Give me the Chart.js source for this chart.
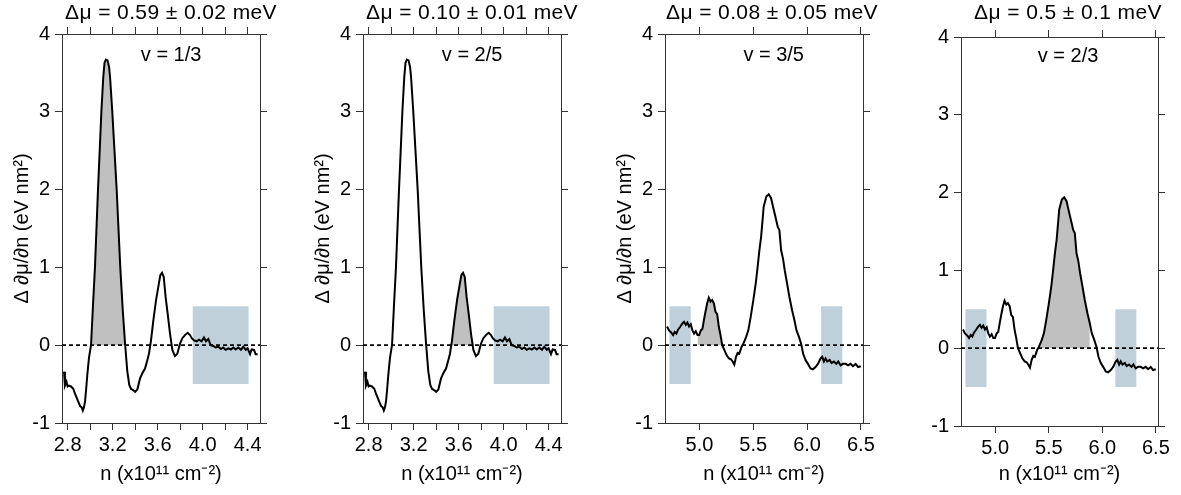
<!DOCTYPE html>
<html><head><meta charset="utf-8">
<script src="https://cdn.jsdelivr.net/npm/chart.js@4.4.1/dist/chart.umd.min.js"></script>
<style>
html,body{margin:0;padding:0;background:#fff;overflow:hidden;width:1181px;height:495px;position:relative}
canvas{position:absolute;top:0}
</style></head><body>
<canvas id="c0" width="342" height="495" style="left:0px"></canvas>
<canvas id="c1" width="342" height="495" style="left:301px"></canvas>
<canvas id="c2" width="338" height="495" style="left:603px"></canvas>
<canvas id="c3" width="338" height="495" style="left:899px"></canvas>
<script>
// ---------- DATA ----------
// curve shown in panels 1 and 2: [n (1e11 cm^-2), Δ∂μ/∂n (eV nm^2)]
const curveLow = [
 [2.768,-0.34],[2.776,-0.52],[2.79,-0.47],[2.80,-0.53],[2.81,-0.52],[2.83,-0.53],[2.85,-0.56],
 [2.87,-0.64],[2.89,-0.71],[2.91,-0.78],[2.925,-0.80],[2.935,-0.84],[2.945,-0.80],[2.955,-0.72],
 [2.965,-0.56],[2.975,-0.38],[2.99,-0.16],[3.008,0.0],[3.025,0.5],[3.043,1.0],[3.07,2.0],[3.10,3.0],
 [3.117,3.45],[3.128,3.63],[3.14,3.67],[3.155,3.66],[3.168,3.58],[3.177,3.45],[3.197,3.0],[3.236,2.0],
 [3.268,1.0],[3.29,0.45],[3.31,0.03],[3.33,-0.33],[3.348,-0.51],[3.363,-0.56],[3.385,-0.58],[3.40,-0.60],
 [3.42,-0.57],[3.443,-0.43],[3.464,-0.36],[3.488,-0.30],[3.509,-0.19],[3.523,-0.11],[3.541,0.06],
 [3.562,0.32],[3.586,0.58],[3.606,0.75],[3.624,0.90],[3.639,0.93],[3.654,0.88],[3.671,0.62],[3.689,0.41],
 [3.71,0.15],[3.731,-0.06],[3.754,-0.14],[3.775,-0.11],[3.799,0.02],[3.82,0.09],[3.843,0.13],[3.867,0.16],
 [3.888,0.13],[3.903,0.09],[3.926,0.06],[3.947,0.05],[3.968,0.07],[3.991,0.05],[4.012,0.10],[4.03,0.05],
 [4.051,0.08],[4.071,0.0],[4.095,-0.01],[4.116,-0.03],[4.14,-0.02],[4.163,-0.05],[4.184,-0.03],[4.205,-0.06],
 [4.229,-0.04],[4.252,-0.055],[4.273,-0.03],[4.294,-0.055],[4.317,-0.03],[4.341,-0.06],[4.362,-0.02],
 [4.383,-0.06],[4.40,-0.04],[4.421,-0.115],[4.436,-0.055],[4.457,-0.06],[4.471,-0.115],[4.489,-0.115]
];
// curve shown in panels 3 and 4
const curveHigh = [
 [4.699,0.24],[4.717,0.19],[4.739,0.16],[4.755,0.13],[4.77,0.17],[4.786,0.15],[4.801,0.20],[4.823,0.24],
 [4.842,0.28],[4.857,0.30],[4.873,0.26],[4.888,0.29],[4.904,0.24],[4.92,0.27],[4.935,0.19],[4.95,0.15],
 [4.966,0.18],[4.982,0.13],[4.997,0.13],[5.013,0.19],[5.028,0.21],[5.041,0.32],[5.056,0.43],[5.072,0.54],
 [5.087,0.61],[5.103,0.56],[5.118,0.58],[5.134,0.54],[5.149,0.43],[5.165,0.40],[5.18,0.24],[5.196,0.13],
 [5.212,0.0],[5.231,-0.06],[5.253,-0.13],[5.274,-0.17],[5.293,-0.18],[5.308,-0.21],[5.324,-0.25],
 [5.34,-0.15],[5.355,-0.10],[5.37,-0.11],[5.392,-0.02],[5.408,0.02],[5.43,0.09],[5.454,0.19],[5.476,0.36],
 [5.501,0.58],[5.523,0.79],[5.541,1.01],[5.557,1.22],[5.573,1.39],[5.588,1.63],[5.597,1.78],[5.622,1.91],
 [5.644,1.94],[5.666,1.89],[5.684,1.78],[5.706,1.65],[5.728,1.52],[5.743,1.48],[5.759,1.22],[5.777,1.11],
 [5.793,0.96],[5.815,0.79],[5.836,0.62],[5.861,0.45],[5.883,0.32],[5.902,0.19],[5.924,0.11],[5.945,0.02],
 [5.964,-0.11],[5.986,-0.19],[6.008,-0.24],[6.032,-0.30],[6.054,-0.31],[6.079,-0.28],[6.101,-0.24],
 [6.126,-0.17],[6.141,-0.15],[6.157,-0.21],[6.172,-0.17],[6.188,-0.21],[6.21,-0.19],[6.228,-0.23],
 [6.25,-0.21],[6.272,-0.24],[6.29,-0.21],[6.312,-0.26],[6.334,-0.24],[6.359,-0.24],[6.381,-0.26],
 [6.405,-0.24],[6.427,-0.27],[6.452,-0.24],[6.474,-0.28],[6.499,-0.27]
];
const panelTitles = ["Δμ = 0.59 ± 0.02 meV","Δμ = 0.10 ± 0.01 meV","Δμ = 0.08 ± 0.05 meV","Δμ = 0.5 ± 0.1 meV"];
const fillingLabels = ["v = 1/3","v = 2/5","v = 3/5","v = 2/3"];
const shadedRanges = [[3.0,3.315],[3.53,3.735],[4.98,5.235],[5.40,5.89]];
const boxRanges = [[[3.91,4.41]],[[3.91,4.41]],[[4.72,4.92],[6.13,6.33]],[[4.72,4.92],[6.12,6.32]]];
const boxHalfHeight = 0.5;
const xTicksLow = [2.8,3.0,3.2,3.4,3.6,3.8,4.0,4.2,4.4];
const xLabelsLow = [2.8,3.2,3.6,4.0,4.4];
const xTicksHigh = [5.0,5.5,6.0,6.5];
const xLabelsHigh = [5.0,5.5,6.0,6.5];
const yTicks = [-1,0,1,2,3,4];
const yTitle = "Δ ∂μ/∂n (eV nm²)";
const xTitle = "n (x10¹¹ cm⁻²)";

// ---------- LAYOUT / STYLE ----------
const FONT = '"Liberation Sans", Arial, Helvetica, sans-serif';
const panels = [
 {id:'c0', curve:curveLow, xr:[2.75,4.51], xt:xTicksLow, xl:xLabelsLow, yW:62, rW:82, T:34, B:423, yTitle:true, nuPos:[3.72,3.73], titleX:171},
 {id:'c1', curve:curveLow, xr:[2.75,4.51], xt:xTicksLow, xl:xLabelsLow, yW:62, rW:82, T:34, B:423, yTitle:true, nuPos:[3.72,3.73], titleX:171},
 {id:'c2', curve:curveHigh, xr:[4.68,6.52], xt:xTicksHigh, xl:xLabelsHigh, yW:62, rW:78, T:34, B:423, yTitle:true, nuPos:[5.69,3.73], titleX:169},
 {id:'c3', curve:curveHigh, xr:[4.68,6.52], xt:xTicksHigh, xl:xLabelsHigh, yW:62, rW:79, T:37, B:426, yTitle:false, nuPos:[5.68,3.75], titleX:169}
];
const frameColor = '#333';

const textPlugin = {
  id: 'txt',
  afterDatasetsDraw(chart, args, opts) {
    const ctx = chart.ctx;
    ctx.save();
    ctx.fillStyle = '#000';
    ctx.textAlign = 'center';
    ctx.textBaseline = 'middle';
    ctx.font = '20px ' + FONT;
    ctx.fillText(opts.nu, chart.scales.x.getPixelForValue(opts.nuX), chart.scales.y.getPixelForValue(opts.nuY));
    ctx.font = '21px ' + FONT;
    if ('letterSpacing' in ctx) ctx.letterSpacing = '0.4px';
    ctx.textBaseline = 'alphabetic';
    ctx.fillText(opts.title, opts.titleX, 19);
    ctx.restore();
  }
};

function gridOpts() {
  return {drawOnChartArea:false, drawTicks:true, tickLength:7, tickColor:frameColor, tickWidth:1};
}
function borderOpts() { return {display:true, color:frameColor, width:1}; }

panels.forEach((p, i) => {
  const pts = p.curve.map(d => ({x:d[0], y:d[1]}));
  const sr = shadedRanges[i];
  const shaded = pts.filter(d => d.x >= sr[0] && d.x <= sr[1]);
  const datasets = [
    {label:'curve', data:pts, borderColor:'#000', borderWidth:2, pointRadius:0, tension:0, fill:false, order:0},
    {label:'zero', data:[{x:p.xr[0],y:0},{x:p.xr[1],y:0}], borderColor:'#000', borderWidth:1.7, borderDash:[4,3], pointRadius:0, fill:false, order:1},
    {label:'shade', data:shaded, borderWidth:0, borderColor:'rgba(0,0,0,0)', backgroundColor:'#c0c0c0', pointRadius:0, fill:{value:0}, order:2}
  ];
  boxRanges[i].forEach((b, k) => {
    datasets.push({label:'box'+k, data:[{x:b[0],y:boxHalfHeight},{x:b[1],y:boxHalfHeight}], borderWidth:0, borderColor:'rgba(0,0,0,0)', backgroundColor:'#bfd0da', pointRadius:0, fill:{value:-boxHalfHeight}, order:3});
  });
  datasets.forEach(d => { d.xAxisID = 'x'; d.yAxisID = 'y'; });
  const xTickSet = s => { s.ticks = p.xt.map(v => ({value:v})); };
  const yTickSet = s => { s.ticks = yTicks.map(v => ({value:v})); };
  new Chart(document.getElementById(p.id), {
    type:'line',
    data:{datasets},
    plugins:[textPlugin],
    options:{
      responsive:false, animation:false, devicePixelRatio:1,
      layout:{padding:0},
      plugins:{
        legend:{display:false}, tooltip:{enabled:false}, title:{display:false},
        txt:{title:panelTitles[i], titleX:p.titleX, nu:fillingLabels[i], nuX:p.nuPos[0], nuY:p.nuPos[1]}
      },
      scales:{
        x:{type:'linear', axis:'x', position:'bottom', min:p.xr[0], max:p.xr[1],
           afterBuildTicks:xTickSet,
           ticks:{color:'#000', font:{family:FONT, size:20}, padding:3, maxRotation:0, autoSkip:false,
                  callback:v => p.xl.some(l => Math.abs(l - v) < 1e-6) ? v.toFixed(1) : ''},
           grid:gridOpts(), border:borderOpts(),
           title:{display:true, text:xTitle, color:'#000', font:{family:FONT, size:20}, padding:{top:0,bottom:9}},
           afterFit:s => { s.height = 495 - p.B; }},
        xTop:{type:'linear', axis:'x', position:'top', min:p.xr[0], max:p.xr[1],
           afterBuildTicks:xTickSet, ticks:{display:false},
           grid:gridOpts(), border:borderOpts(),
           afterFit:s => { s.height = p.T; }},
        y:{type:'linear', axis:'y', position:'left', min:-1, max:4,
           afterBuildTicks:yTickSet,
           ticks:{color:'#000', font:{family:FONT, size:20}, padding:5, callback:v => String(v)},
           grid:gridOpts(), border:borderOpts(),
           title:{display:p.yTitle, text:yTitle, color:'#000', font:{family:FONT, size:20}, padding:{top:10.5,bottom:0}},
           afterFit:s => { s.width = p.yW; }},
        yRight:{type:'linear', axis:'y', position:'right', min:-1, max:4,
           afterBuildTicks:yTickSet, ticks:{display:false},
           grid:gridOpts(), border:borderOpts(),
           afterFit:s => { s.width = p.rW; }}
      }
    }
  });
});
</script>
</body></html>
